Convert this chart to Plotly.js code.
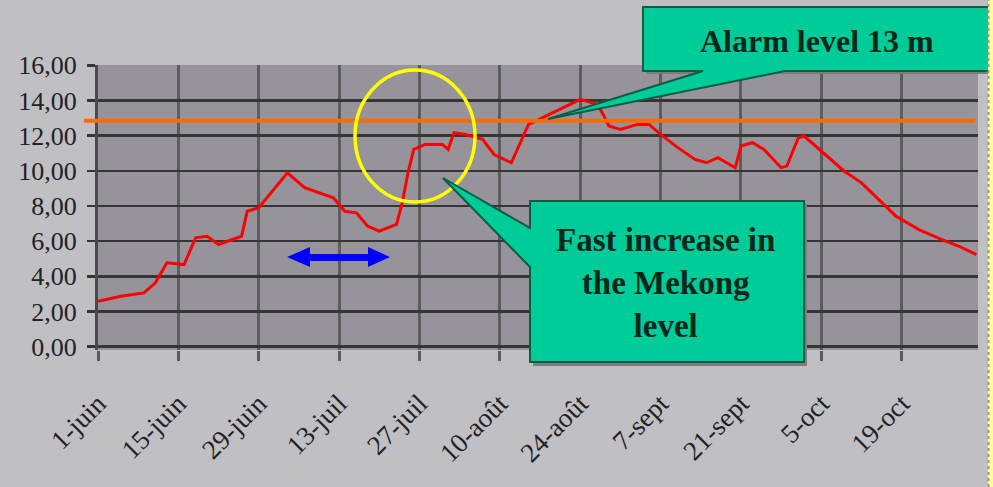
<!DOCTYPE html>
<html>
<head>
<meta charset="utf-8">
<script src="https://cdn.plot.ly/plotly-3.0.1.min.js"></script>
<style>html,body{margin:0;padding:0;background:#c0bfc4;}#chart{width:993px;height:487px;}</style>
</head>
<body>
<div id="chart"></div>
<script>
// Mekong water level (m), dates (year assumed 2000)
const dates = [
  "2000-06-01","2000-06-05","2000-06-09","2000-06-11","2000-06-13","2000-06-16","2000-06-18","2000-06-20",
  "2000-06-22","2000-06-26","2000-06-27","2000-06-29","2000-07-04","2000-07-07","2000-07-12","2000-07-14",
  "2000-07-16","2000-07-18","2000-07-20","2000-07-23","2000-07-24","2000-07-25","2000-07-26","2000-07-28",
  "2000-07-31","2000-08-01","2000-08-02","2000-08-04","2000-08-07","2000-08-09","2000-08-12","2000-08-14",
  "2000-08-15","2000-08-18","2000-08-21","2000-08-24","2000-08-27","2000-08-28","2000-08-29","2000-08-31",
  "2000-09-03","2000-09-05","2000-09-07","2000-09-10","2000-09-13","2000-09-15","2000-09-17","2000-09-20",
  "2000-09-21","2000-09-23","2000-09-25","2000-09-28","2000-09-29","2000-10-01","2000-10-02","2000-10-06",
  "2000-10-09","2000-10-12","2000-10-15","2000-10-18","2000-10-22","2000-10-26","2000-10-29","2000-11-01"
];
const levels = [
  2.58,2.87,3.06,3.63,4.77,4.67,6.19,6.28,
  5.81,6.28,7.70,7.90,9.89,9.04,8.47,7.70,
  7.61,6.85,6.57,6.95,8.18,9.89,11.22,11.50,
  11.50,11.22,12.17,12.07,11.79,10.93,10.46,11.98,
  12.64,13.11,13.59,14.07,13.78,13.21,12.55,12.36,
  12.64,12.64,12.07,11.32,10.65,10.46,10.75,10.18,
  11.41,11.60,11.22,10.18,10.27,11.88,11.98,10.84,
  9.98,9.32,8.37,7.42,6.66,6.09,5.71,5.24
];
const tickDates = ["2000-06-01","2000-06-15","2000-06-29","2000-07-13","2000-07-27","2000-08-10",
                   "2000-08-24","2000-09-07","2000-09-21","2000-10-05","2000-10-19"];
const tickLabels = ["1-juin","15-juin","29-juin","13-juil","27-juil","10-août",
                    "24-août","7-sept","21-sept","5-oct","19-oct"];
const yTicks = [0,2,4,6,8,10,12,14,16];
const alarmLevel = 12.85;
const alarmText = "Alarm level 13 m";
const calloutText = "Fast increase in<br>the Mekong<br>level";

// pixel -> paper helpers for decorations
const W = 993, H = 487, L = 98, R = 15, T = 65, B = 137;
const pw = W - L - R, ph = H - T - B;
const px = x => (x - L) / pw;
const py = y => (H - B - y) / ph;
const path = pts => "M " + pts.map(p => px(p[0]).toFixed(4) + "," + py(p[1]).toFixed(4)).join(" L ") + " Z";

const green = "#00cc99", greenEdge = "#0d5c44";

const shapes = [
  // alarm line
  {type:"line", xref:"paper", yref:"y", x0:px(84), x1:px(975), y0:alarmLevel, y1:alarmLevel,
   line:{color:"#ff6a00", width:4}},
  // yellow ellipse
  {type:"circle", xref:"paper", yref:"paper", x0:px(355), x1:px(475), y0:py(202), y1:py(70),
   line:{color:"#ffff00", width:3.5}},
  // blue double arrow
  {type:"path", xref:"paper", yref:"paper",
   path: path([[287,257],[310,247],[310,254],[368,254],[368,247],[390,257],[368,267],[368,261],[310,261],[310,267]]),
   fillcolor:"#0000ff", line:{width:0}},
  // alarm callout shadow + body
  {type:"rect", xref:"paper", yref:"paper", x0:px(646), x1:px(995), y0:py(74), y1:py(10),
   fillcolor:"#7d7d80", line:{width:0}},
  {type:"path", xref:"paper", yref:"paper",
   path: path([[643,7],[991,7],[991,71],[785,71],[548,119],[703,71],[643,71]]),
   fillcolor:green, line:{color:greenEdge, width:2}},
  // fast increase callout shadow + body
  {type:"rect", xref:"paper", yref:"paper", x0:px(533), x1:px(807), y0:py(366), y1:py(204),
   fillcolor:"#7d7d80", line:{width:0}},
  {type:"path", xref:"paper", yref:"paper",
   path: path([[530,201],[804,201],[804,362],[530,362],[530,267],[443,178],[530,228]]),
   fillcolor:green, line:{color:greenEdge, width:2}},
  // dashed selection edge at right
  {type:"line", xref:"paper", yref:"paper", x0:px(990.5), x1:px(990.5), y0:py(487), y1:py(0),
   line:{color:"#ffff99", width:5}},
  {type:"line", xref:"paper", yref:"paper", x0:px(988.5), x1:px(988.5), y0:py(487), y1:py(0),
   line:{color:"#9a9a9a", width:2, dash:"dot"}}
];

const annotations = [
  {xref:"paper", yref:"paper", x:px(817), y:py(41), text:"<b>"+alarmText+"</b>", showarrow:false,
   xanchor:"center", yanchor:"middle", font:{family:"Liberation Serif", size:32, color:"#06281a"}},
  {xref:"paper", yref:"paper", x:px(665), y:py(283), text:"<b>"+calloutText+"</b>", showarrow:false,
   xanchor:"center", yanchor:"middle", align:"center",
   font:{family:"Liberation Serif", size:33, color:"#06281a"}}
];

const trace = {
  x: dates, y: levels, type:"scatter", mode:"lines",
  line:{color:"#ff0000", width:3}, hoverinfo:"skip"
};

const layout = {
  width: W, height: H,
  margin:{l:L, r:R, t:T, b:B, pad:0},
  paper_bgcolor:"#c0bfc4", plot_bgcolor:"#96949a",
  showlegend:false,
  separators:", ",
  font:{family:"Liberation Serif", color:"#222"},
  xaxis:{
    type:"date", range:["2000-06-01","2000-11-01 07:00"],
    tickvals: tickDates, ticktext: tickLabels, tickangle:-45,
    tickfont:{family:"Liberation Serif", size:27, color:"#222"},
    showgrid:true, gridcolor:"#5c5c5c", gridwidth:3,
    ticks:"outside", ticklen:10, tickwidth:3, tickcolor:"#5c5c5c",
    ticklabelstandoff:16,
    showline:false, zeroline:false, fixedrange:true
  },
  yaxis:{
    range:[-0.19,16.02], tickvals:yTicks, tickformat:".2f",
    tickfont:{family:"Liberation Serif", size:26, color:"#222"},
    showgrid:true, gridcolor:"#353535", gridwidth:2.5,
    ticks:"outside", ticklen:8, tickwidth:2.5, tickcolor:"#353535",
    ticklabelstandoff:5,
    showline:true, linecolor:"#4a4a4a", linewidth:3,
    zeroline:false, fixedrange:true
  },
  shapes: shapes,
  annotations: annotations
};

Plotly.newPlot("chart", [trace], layout, {displayModeBar:false, staticPlot:true});
</script>
</body>
</html>
